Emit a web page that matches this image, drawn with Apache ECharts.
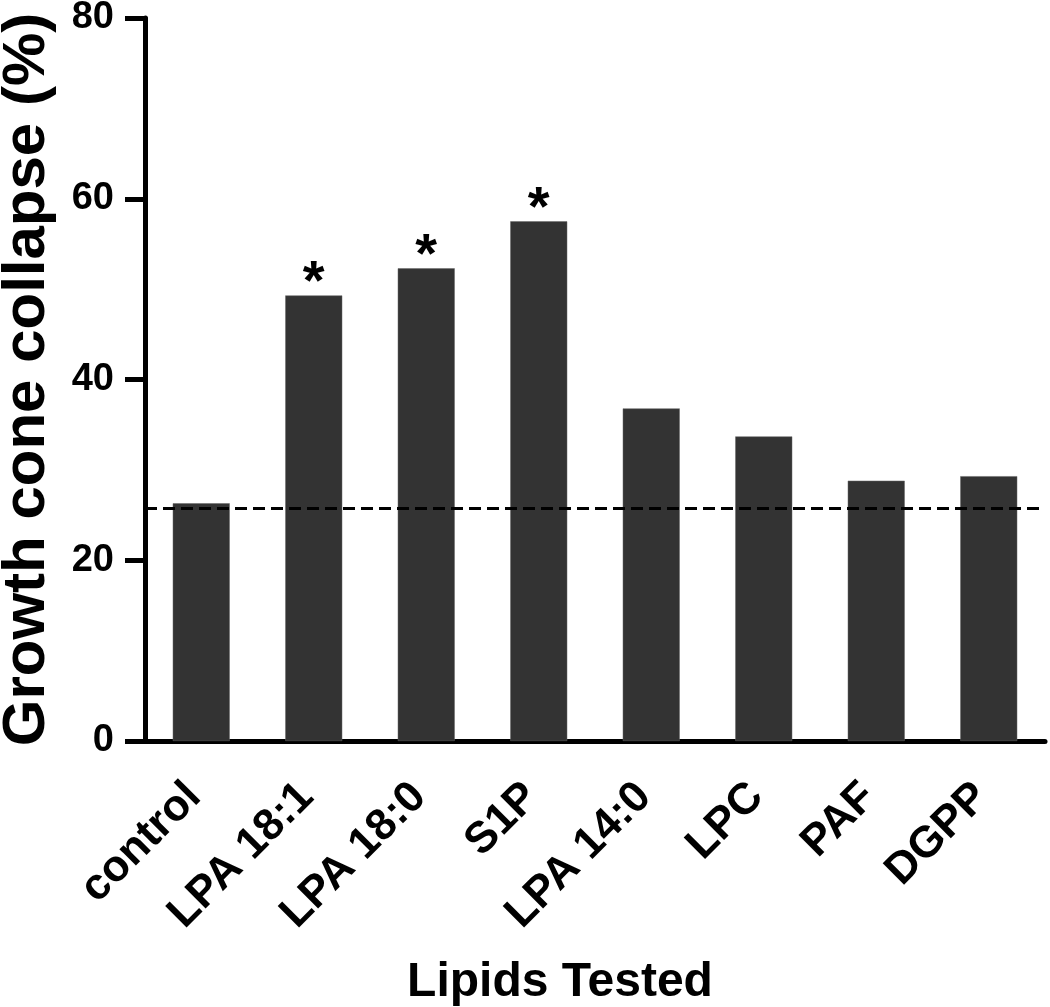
<!DOCTYPE html>
<html>
<head>
<meta charset="utf-8">
<script src="https://cdn.jsdelivr.net/npm/echarts@6/dist/echarts.min.js"></script>
<style>
html,body{margin:0;padding:0;background:#fff;}
#echart{width:1050px;height:1007px;}
</style>
</head>
<body>
<div id="echart"></div>
<script>
var lipids = ['control', 'LPA 18:1', 'LPA 18:0', 'S1P', 'LPA 14:0', 'LPC', 'PAF', 'DGPP'];
var collapse = [26.3, 49.3, 52.3, 57.5, 36.8, 33.7, 28.8, 29.3];
var significant = [false, true, true, true, false, false, false, false];
var baseline = 25.7;
var yTicks = [0, 20, 40, 60, 80];

var font = 'Liberation Sans, Arial, sans-serif';

function initChart(){
	var domain = document.getElementById('echart');
	var myChart = echarts.init(domain, null, {renderer: 'canvas'});

	var barData = [];
	for (var i = 0; i < collapse.length; i++) {
		barData.push({
			value: collapse[i],
			label: {show: significant[i]}
		});
	}

	var option = {
		animation: false,
		backgroundColor: '#fff',
		grid: {left: 145, right: 5, top: 18, bottom: 266, containLabel: false, outerBoundsMode: 'none'},
		xAxis: {
			type: 'category',
			data: lipids,
			name: 'Lipids Tested',
			nameLocation: 'middle',
			nameGap: 218,
			nameTextStyle: {fontFamily: font, fontWeight: 'bold', fontSize: 48, color: '#000', padding: [0, 70, 0, 0]},
			axisLine: {lineStyle: {color: '#000', width: 5}},
			axisTick: {alignWithLabel: true, length: 18, lineStyle: {color: '#000', width: 4}},
			axisLabel: {rotate: 45, margin: 42, padding: [0, 10, 0, 0], fontFamily: font, fontWeight: 'bold', fontSize: 44, color: '#000', interval: 0}
		},
		yAxis: {
			type: 'value',
			min: yTicks[0],
			max: yTicks[yTicks.length - 1],
			interval: 20,
			name: 'Growth cone collapse (%)',
			nameLocation: 'middle',
			nameGap: 88,
			nameTextStyle: {fontFamily: font, fontWeight: 'bold', fontSize: 60, color: '#000'},
			axisLine: {show: true, lineStyle: {color: '#000', width: 5}},
			axisTick: {show: true, length: 20, lineStyle: {color: '#000', width: 5}},
			axisLabel: {margin: 31, fontFamily: font, fontWeight: 'bold', fontSize: 38, color: '#000'},
			splitLine: {show: false}
		},
		series: [{
			type: 'bar',
			data: barData,
			barWidth: 57,
			itemStyle: {color: '#333333', borderColor: '#666', borderWidth: 0.5},
			label: {
				position: 'top',
				distance: -16,
				formatter: '*',
				fontFamily: font,
				fontWeight: 'bold',
				fontSize: 56,
				color: '#000'
			},
			markLine: {
				silent: true,
				symbol: 'none',
				label: {show: false},
				lineStyle: {color: '#000', width: 3, type: [12, 6]},
				data: [{yAxis: baseline}]
			}
		}]
	};
	myChart.setOption(option);
}
initChart();
</script>
</body>
</html>
